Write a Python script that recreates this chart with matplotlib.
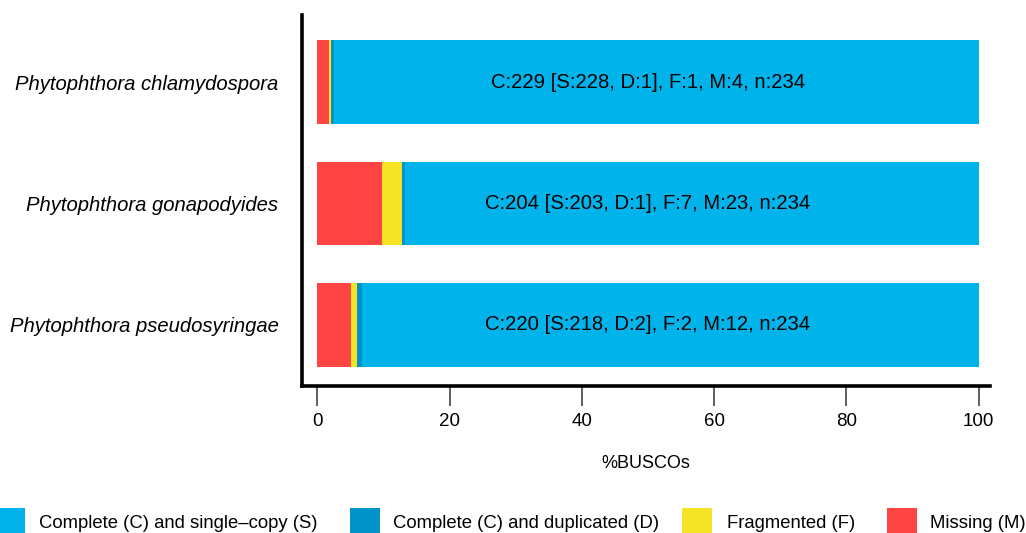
import matplotlib.pyplot as plt
from matplotlib.patches import Rectangle
import numpy as np

plt.rcParams['font.family'] = ['Liberation Sans', 'DejaVu Sans']

species = ['Phytophthora chlamydospora', 'Phytophthora gonapodyides', 'Phytophthora pseudosyringae']
single = [228, 203, 218]
dupl = [1, 1, 2]
frag = [1, 7, 2]
missing = [4, 23, 12]
total = 234

cats = ['Complete (C) and single\u2013copy (S)', 'Complete (C) and duplicated (D)', 'Fragmented (F)', 'Missing (M)']
colors = ['#00B4EB', '#0093C9', '#F5E426', '#FF4444']

W, H = 1026, 533
fig = plt.figure(figsize=(W / 100, H / 100), dpi=100)
ax = fig.add_axes([302 / W, 1 - 386 / H, 688 / W, 371 / H])

y = np.arange(len(species))
pct = lambda v: np.array(v) / total * 100
left = np.zeros(len(species))
# stacked from the left: missing, fragmented, duplicated, single
for vals, c in [(missing, colors[3]), (frag, colors[2]), (dupl, colors[1]), (single, colors[0])]:
    w = pct(vals)
    ax.barh(y, w, left=left, height=0.69, color=c, linewidth=0)
    left += w

for i in range(len(species)):
    c = single[i] + dupl[i]
    txt = f'C:{c} [S:{single[i]}, D:{dupl[i]}], F:{frag[i]}, M:{missing[i]}, n:{total}'
    ax.text(50, y[i], txt, ha='center', va='center', fontsize=14.6, color='black')

ax.set_xlim(-2.3, 101.7)
ax.set_ylim(2.504, -0.554)
ax.set_yticks(y)
ax.set_yticklabels(species, fontsize=14.6, style='italic')
ax.tick_params(axis='y', length=0, pad=17)
ax.set_xticks([0, 20, 40, 60, 80, 100])
ax.tick_params(axis='x', length=14.5, width=1.2, color='#444444', labelsize=13.5, pad=5)
ax.set_xlabel('%BUSCOs', fontsize=13, labelpad=18)

for s in ['top', 'right']:
    ax.spines[s].set_visible(False)
for s in ['left', 'bottom']:
    ax.spines[s].set_linewidth(2.6)

# legend along the bottom edge
box_x = [-5, 350, 682, 887]
text_x = [39, 393, 727, 930]
for bx, tx, c, lab in zip(box_x, text_x, colors, cats):
    fig.patches.append(Rectangle((bx / W, 0), 30 / W, 25 / H,
                                 transform=fig.transFigure, color=c, linewidth=0))
    fig.text(tx / W, 9.5 / H, lab, fontsize=13.3, va='center', ha='left')

fig.savefig('out.png', dpi=100)
